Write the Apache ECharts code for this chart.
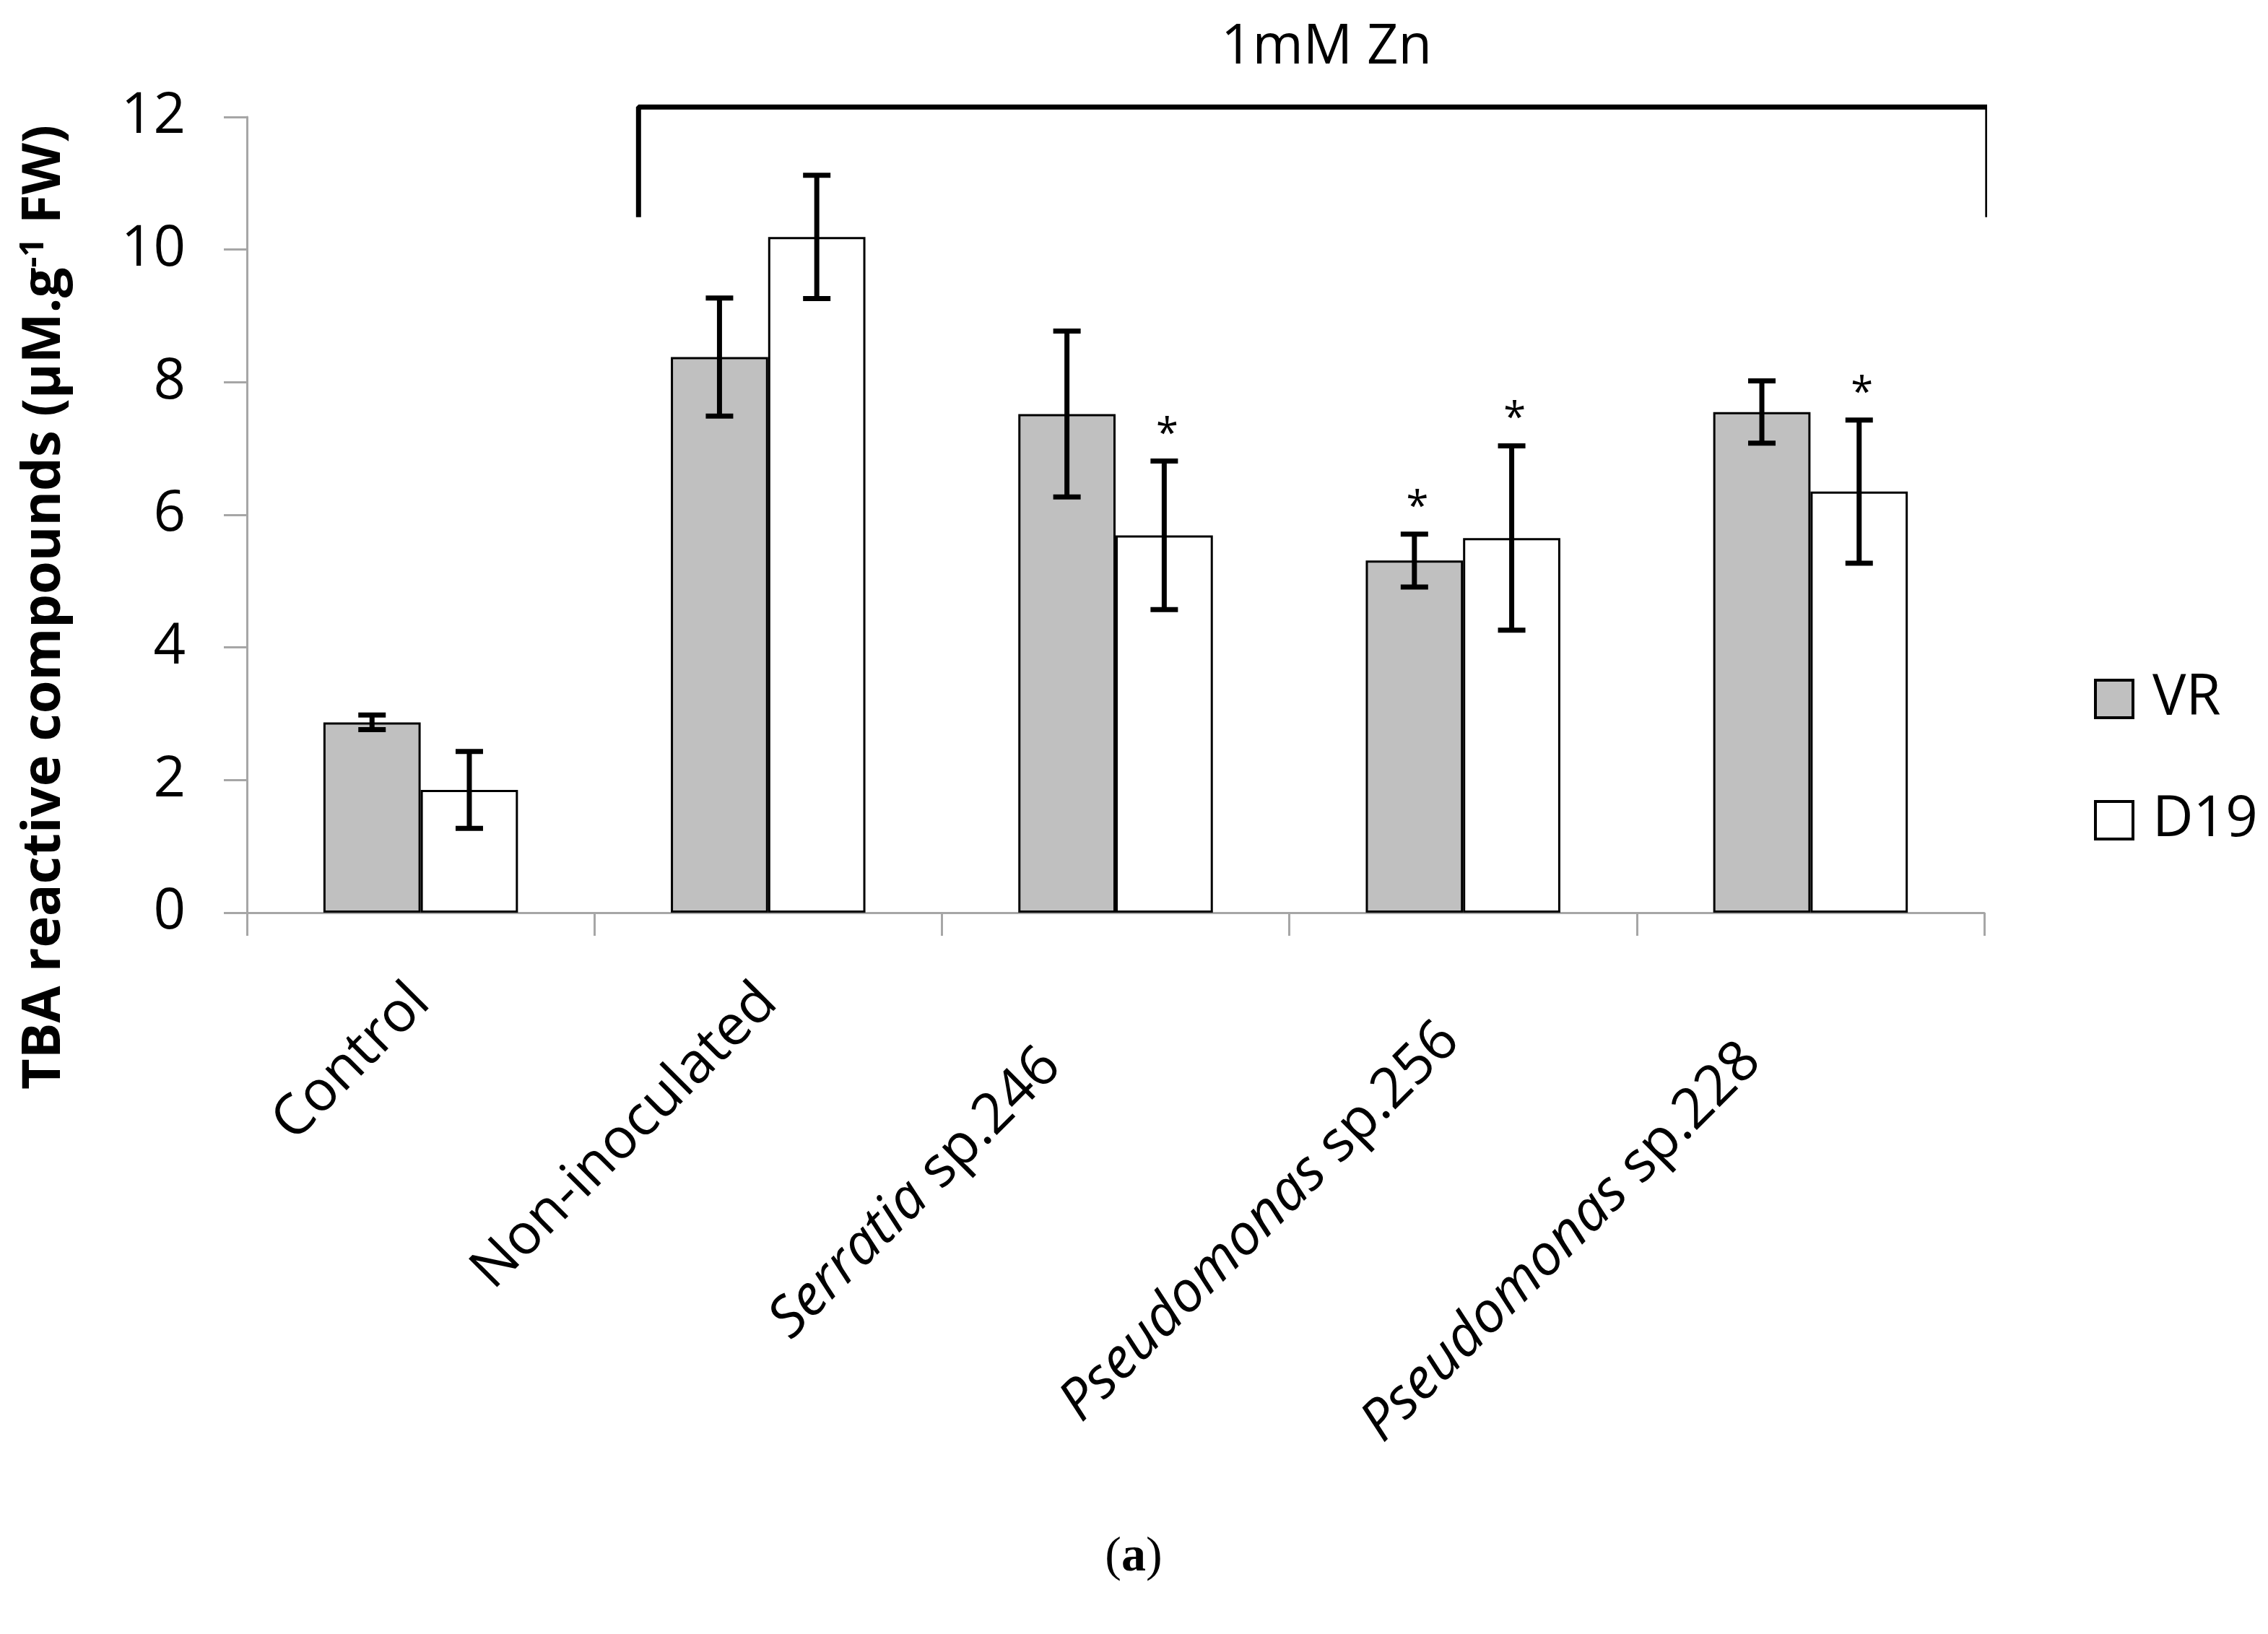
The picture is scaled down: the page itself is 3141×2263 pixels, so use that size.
<!DOCTYPE html>
<html>
<head>
<meta charset="utf-8">
<script src="https://cdn.jsdelivr.net/npm/echarts@6/dist/echarts.min.js"></script>
<style>
html, body { margin: 0; padding: 0; background: #fff; }
#chart { width: 3141px; height: 2263px; }
</style>
</head>
<body>
<div id="chart"></div>
<script>
// 类别与数值
var categories = ["Control", "Non-inoculated", "Serratia sp.246", "Pseudomonas sp.256", "Pseudomonas sp.228"];
var vrValues = [2.87, 8.38, 7.52, 5.31, 7.55];
var vrErrors = [0.11, 0.89, 1.25, 0.40, 0.47];
var d19Values = [1.85, 10.19, 5.69, 5.65, 6.35];
var d19Errors = [0.58, 0.93, 1.12, 1.39, 1.08];
// 显著性星号
var vrStars = [0, 0, 0, 1, 0];
var d19Stars = [0, 0, 1, 1, 1];
var yTicks = [0, 2, 4, 6, 8, 10, 12];
// 1mM Zn 括号的位置（类别坐标）
var bracketX = [0.627, 4.51];
var bracketY = [10.49, 12.15];

var FONT = "Open Sans";
var chart = echarts.init(document.getElementById("chart"));

// 原图标签有的偏移（尾部空格），用 padding 模拟
var labelPads = [
	[0, 0, 0, 0],
	[0, 0, 0, 0],
	[0, 125, 0, 0],
	[50, 50, 0, 0],
	[0, 115, 0, 0]
];

var xData = [];
for (let i = 0; i < categories.length; i++) {
	xData.push({ value: categories[i], textStyle: { padding: labelPads[i] } });
}

function errData(vals, errs, stars) {
	var out = [];
	for (var i = 0; i < vals.length; i++) {
		out.push([i, vals[i], errs[i], stars[i]]);
	}
	return out;
}

// 误差线 + 星号
function makeErrSeries(name, vals, errs, stars, side) {
	return {
		type: "custom",
		name: name + "_err",
		z: 5,
		silent: true,
		data: errData(vals, errs, stars),
		encode: { x: 0, y: 1 },
		renderItem: function (params, api) {
			var band = api.size([1, 0])[0];
			var bw = band * (1 - 0.44) / 2;
			var c = api.coord([api.value(0), api.value(1)]);
			var x = c[0] + side * bw / 2;
			var top = api.coord([api.value(0), api.value(1) + api.value(2)])[1];
			var bot = api.coord([api.value(0), api.value(1) - api.value(2)])[1];
			var cap = 19;
			var ls = { stroke: "#000", lineWidth: 7 };
			var kids = [
				{ type: "line", shape: { x1: x, y1: top, x2: x, y2: bot }, style: ls },
				{ type: "line", shape: { x1: x - cap, y1: top, x2: x + cap, y2: top }, style: ls },
				{ type: "line", shape: { x1: x - cap, y1: bot, x2: x + cap, y2: bot }, style: ls }
			];
			if (api.value(3)) {
				kids.push({
					type: "text",
					x: x + 4,
					y: top - 36,
					style: {
						text: "*",
						fontSize: 56,
						fontFamily: FONT,
						fill: "#000",
						textAlign: "center",
						textVerticalAlign: "middle"
					}
				});
			}
			return { type: "group", children: kids };
		}
	};
}

var option = {
	backgroundColor: "#fff",
	animation: false,
	grid: { left: 342, right: 393, top: 162, bottom: 999, containLabel: false },
	legend: {
		data: ["VR", "D19"],
		orient: "vertical",
		icon: "rect",
		left: 2895,
		top: 923,
		itemWidth: 52,
		itemHeight: 52,
		itemGap: 88,
		itemStyle: { borderWidth: 4 },
		textStyle: { fontSize: 78, lineHeight: 80, fontFamily: FONT, color: "#000", padding: [0, 0, 0, 22] }
	},
	xAxis: [{
		type: "category",
		data: xData,
		axisLine: { lineStyle: { color: "#a6a6a6", width: 3 } },
		axisTick: { show: true, length: 32, lineStyle: { color: "#a6a6a6", width: 3 } },
		axisLabel: {
			rotate: 45,
			margin: 112,
			interval: 0,
			fontSize: 78,
			fontFamily: FONT,
			color: "#000",
			formatter: function (v) {
				var k = v.indexOf(" sp.");
				if (k > 0) return "{i|" + v.slice(0, k) + "} " + v.slice(k + 1);
				return v;
			},
			rich: {
				i: { fontStyle: "italic", fontSize: 78, fontFamily: FONT, color: "#000" }
			}
		}
	}, {
		type: "value",
		min: -0.5,
		max: 4.5,
		show: false
	}],
	yAxis: [{
		type: "value",
		min: yTicks[0],
		max: yTicks[yTicks.length - 1],
		interval: 2,
		splitLine: { show: false },
		axisLine: { show: true, onZero: false, lineStyle: { color: "#a6a6a6", width: 3 } },
		axisTick: { show: true, length: 32, lineStyle: { color: "#a6a6a6", width: 3 } },
		axisLabel: { margin: 85, fontSize: 78, fontFamily: FONT, color: "#000" }
	}],
	series: [
		{
			type: "bar",
			name: "VR",
			data: vrValues,
			barGap: "0%",
			barCategoryGap: "44%",
			itemStyle: { color: "#c0c0c0", borderColor: "#000", borderWidth: 3 }
		},
		{
			type: "bar",
			name: "D19",
			data: d19Values,
			barGap: "0%",
			barCategoryGap: "44%",
			itemStyle: { color: "#fff", borderColor: "#000", borderWidth: 3 }
		},
		makeErrSeries("VR", vrValues, vrErrors, vrStars, -1),
		makeErrSeries("D19", d19Values, d19Errors, d19Stars, 1),
		{
			//括号
			type: "line",
			name: "bracket",
			xAxisIndex: 1,
			clip: false,
			silent: true,
			symbol: "none",
			lineStyle: { color: "#000", width: 7 },
			data: [
				[bracketX[0], bracketY[0]],
				[bracketX[0], bracketY[1]],
				[bracketX[1], bracketY[1]],
				[bracketX[1], bracketY[0]]
			]
		}
	],
	graphic: [
		{
			type: "text",
			x: 1837,
			y: 66,
			style: {
				text: "1mM Zn",
				fontSize: 76,
				fontFamily: FONT,
				fill: "#000",
				textAlign: "center",
				textVerticalAlign: "middle"
			}
		},
		{
			type: "text",
			x: 62,
			y: 841,
			rotation: Math.PI / 2,
			style: {
				text: "TBA reactive compounds (\u00b5M.g{s|-1} FW)",
				fontSize: 74,
				fontWeight: "bold",
				fontFamily: FONT,
				fill: "#000",
				textAlign: "center",
				textVerticalAlign: "middle",
				rich: {
					s: { fontSize: 46, fontWeight: "bold", fontFamily: FONT, verticalAlign: "top", padding: [0, 0, 30, 0] }
				}
			}
		},
		{
			type: "text",
			x: 1570,
			y: 2157,
			style: {
				text: "({b|a})",
				fontSize: 68,
				fontFamily: "Liberation Serif",
				fill: "#000",
				textAlign: "center",
				textVerticalAlign: "middle",
				rich: {
					b: { fontSize: 68, fontWeight: "bold", fontFamily: "Liberation Serif" }
				}
			}
		}
	]
};

chart.setOption(option);
</script>
</body>
</html>
